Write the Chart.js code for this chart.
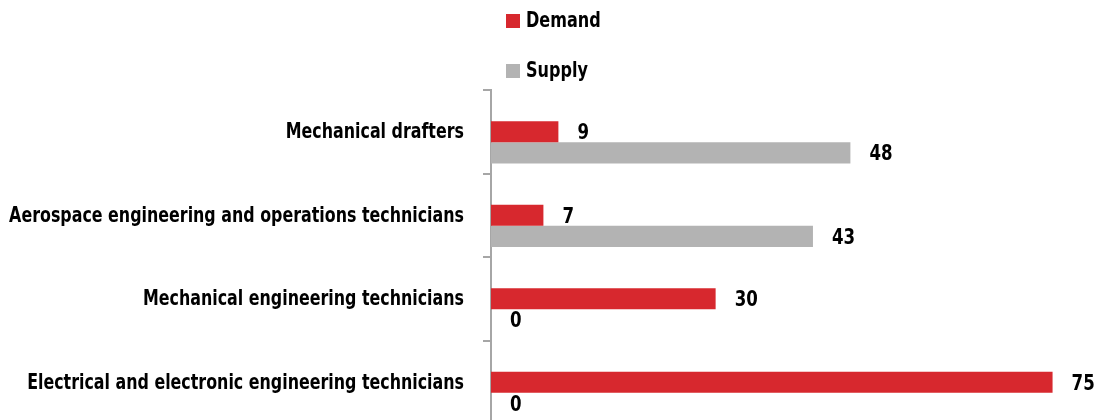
<!DOCTYPE html>
<html>
<head>
<meta charset="utf-8">
<script src="https://cdn.jsdelivr.net/npm/chart.js@4"></script>
<style>
  html, body { margin: 0; padding: 0; background: #fff; overflow: hidden; }
</style>
</head>
<body>
<canvas id="grafico" width="1100" height="426"></canvas>
<script>
// Dados do gráfico
const categorias = [
  'Mechanical drafters',
  'Aerospace engineering and operations technicians',
  'Mechanical engineering technicians',
  'Electrical and electronic engineering technicians'
];
const demanda = [9, 7, 30, 75];
const oferta = [48, 43, 0, 0];
const vazio = [null, null, null, null]; // série vazia só para posicionar as barras

const FONTE = "'Liberation Sans Narrow', 'DejaVu Sans Condensed', sans-serif";
const VERMELHO = '#d7282e';
const CINZA = '#b3b3b3';

// texto condensado (fonte estreita simulada)
function texto(ctx, str, x, y, alinhamento, escala) {
  ctx.save();
  ctx.translate(x, y);
  ctx.scale(escala, 1);
  ctx.textAlign = alinhamento;
  ctx.fillText(str, 0, 0);
  ctx.restore();
}

// Plugin: legenda vertical, rótulos das categorias e dos valores
const rotulos = {
  id: 'rotulos',
  afterDatasetsDraw(chart) {
    const ctx = chart.ctx;
    const eixoY = chart.scales.y;
    ctx.save();
    ctx.font = 'bold 21px ' + FONTE;
    ctx.fillStyle = '#000';
    ctx.textBaseline = 'middle';

    // valores
    chart.data.datasets.forEach((ds, i) => {
      if (!ds.label) return;
      chart.getDatasetMeta(i).data.forEach((bar, j) => {
        const v = ds.data[j];
        if (v === null) return;
        texto(ctx, String(v), bar.x + 19, bar.y + 2, 'left', 0.88);
      });
    });

    // categorias
    categorias.forEach((c, i) => {
      texto(ctx, c, 464, eixoY.getPixelForTick(i) + 1, 'right', 0.84);
    });

    // legenda
    let y = 21;
    chart.data.datasets.forEach(ds => {
      if (!ds.label) return;
      ctx.fillStyle = ds.backgroundColor;
      ctx.fillRect(506, y - 7, 14, 14);
      ctx.fillStyle = '#000';
      texto(ctx, ds.label, 526, y + 1, 'left', 0.85);
      y += 50;
    });
    ctx.restore();
  }
};

const ctx = document.getElementById('grafico').getContext('2d');
const grafico = new Chart(ctx, {
  type: 'bar',
  data: {
    labels: categorias,
    datasets: [
      { label: '', data: vazio, backgroundColor: 'rgba(0,0,0,0)' },
      { label: 'Demand', data: demanda, backgroundColor: VERMELHO },
      { label: 'Supply', data: oferta, backgroundColor: CINZA }
    ]
  },
  options: {
    indexAxis: 'y',
    responsive: false,
    animation: false,
    categoryPercentage: 0.76,
    barPercentage: 1,
    layout: { padding: { top: 90, bottom: 2, left: 0, right: 10 } },
    plugins: {
      legend: { display: false },
      tooltip: { enabled: false }
    },
    scales: {
      x: {
        display: false,
        min: 0,
        max: 80
      },
      y: {
        afterFit(scale) { scale.width = 491; },
        border: { display: true, color: '#a6a6a6', width: 2 },
        grid: {
          drawOnChartArea: false,
          drawTicks: true,
          tickLength: 8,
          color: '#a6a6a6',
          lineWidth: 2
        },
        ticks: { display: false }
      }
    }
  },
  plugins: [rotulos]
});
</script>
</body>
</html>
